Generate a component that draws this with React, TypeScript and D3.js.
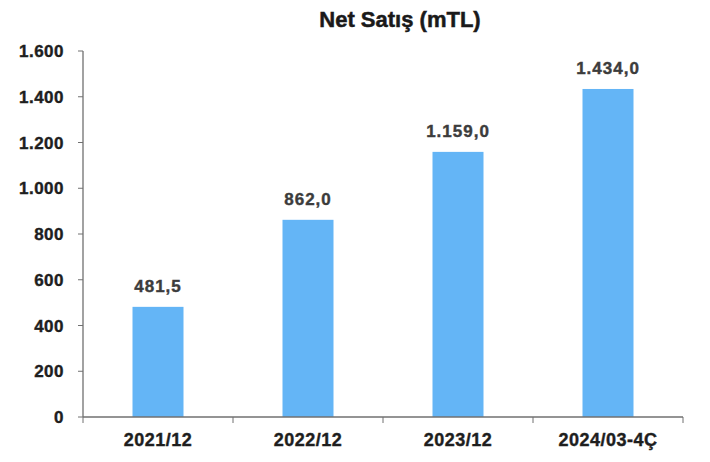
import React from "react";
import * as d3 from "d3";

const categories = ["2021/12", "2022/12", "2023/12", "2024/03-4Ç"];
const values = [481.5, 862.0, 1159.0, 1434.0];
const yTicks = [0, 200, 400, 600, 800, 1000, 1200, 1400, 1600];
const title = "Net Satış (mTL)";

const fmtTick = (v: number) => d3.format(",")(v).replace(/,/g, ".");
const fmtVal = (v: number) => {
  const s = d3.format(",.1f")(v);
  return s.replace(/,/g, "#").replace(".", ",").replace(/#/g, ".");
};

export default function App() {
  const W = 710, H = 462;
  const x0 = 83, x1 = 683, y0 = 417, y1 = 51;
  const x = d3.scaleBand<string>().domain(categories).range([x0, x1]).paddingInner(0).paddingOuter(0);
  const y = d3.scaleLinear().domain([0, 1600]).range([y0, y1]);
  const bw = x.bandwidth() * 0.34;
  const font = "'Liberation Sans', Arial, sans-serif";
  return (
    <svg width={W} height={H} style={{ position: "absolute", left: 0, top: 0, background: "#fff" }} fontFamily={font}>
      <text x={400} y={27} textAnchor="middle" fontSize={22} fontWeight="bold" fill="#1a1a1a" stroke="#1a1a1a" strokeWidth={0.5}>{title}</text>
      {categories.map((c, i) => (
        <g key={c}>
          <rect x={x(c)! + x.bandwidth() / 2 - bw / 2} y={y(values[i])} width={bw} height={y0 - y(values[i])} fill="#64b5f6" />
          <text x={x(c)! + x.bandwidth() / 2} y={y(values[i]) - 15} textAnchor="middle" fontSize={17} fontWeight="bold" letterSpacing={1} fill="#3c3c3c" stroke="#3c3c3c" strokeWidth={0.4}>{fmtVal(values[i])}</text>
          <text x={x(c)! + x.bandwidth() / 2} y={y0 + 29} textAnchor="middle" fontSize={18} fontWeight="bold" letterSpacing={0.5} fill="#1e1e1e" stroke="#1e1e1e" strokeWidth={0.4}>{c}</text>
        </g>
      ))}
      <line x1={x0} x2={x0} y1={y1} y2={y0} stroke="#707070" strokeWidth={1.3} />
      <line x1={x0} x2={x1} y1={y0} y2={y0} stroke="#707070" strokeWidth={1.3} />
      {yTicks.map(t => (
        <g key={t}>
          <line x1={x0 - 5} x2={x0} y1={y(t)} y2={y(t)} stroke="#707070" strokeWidth={1} />
          <text x={64} y={y(t) + 6} textAnchor="end" fontSize={17} fontWeight="bold" letterSpacing={0.5} fill="#1e1e1e" stroke="#1e1e1e" strokeWidth={0.4}>{fmtTick(t)}</text>
        </g>
      ))}
      {[x0, ...categories.map(c => x(c)! + x.bandwidth())].map((v, i) => (
        <line key={i} x1={v} x2={v} y1={y0} y2={y0 + 6} stroke="#707070" strokeWidth={1} />
      ))}
    </svg>
  );
}
